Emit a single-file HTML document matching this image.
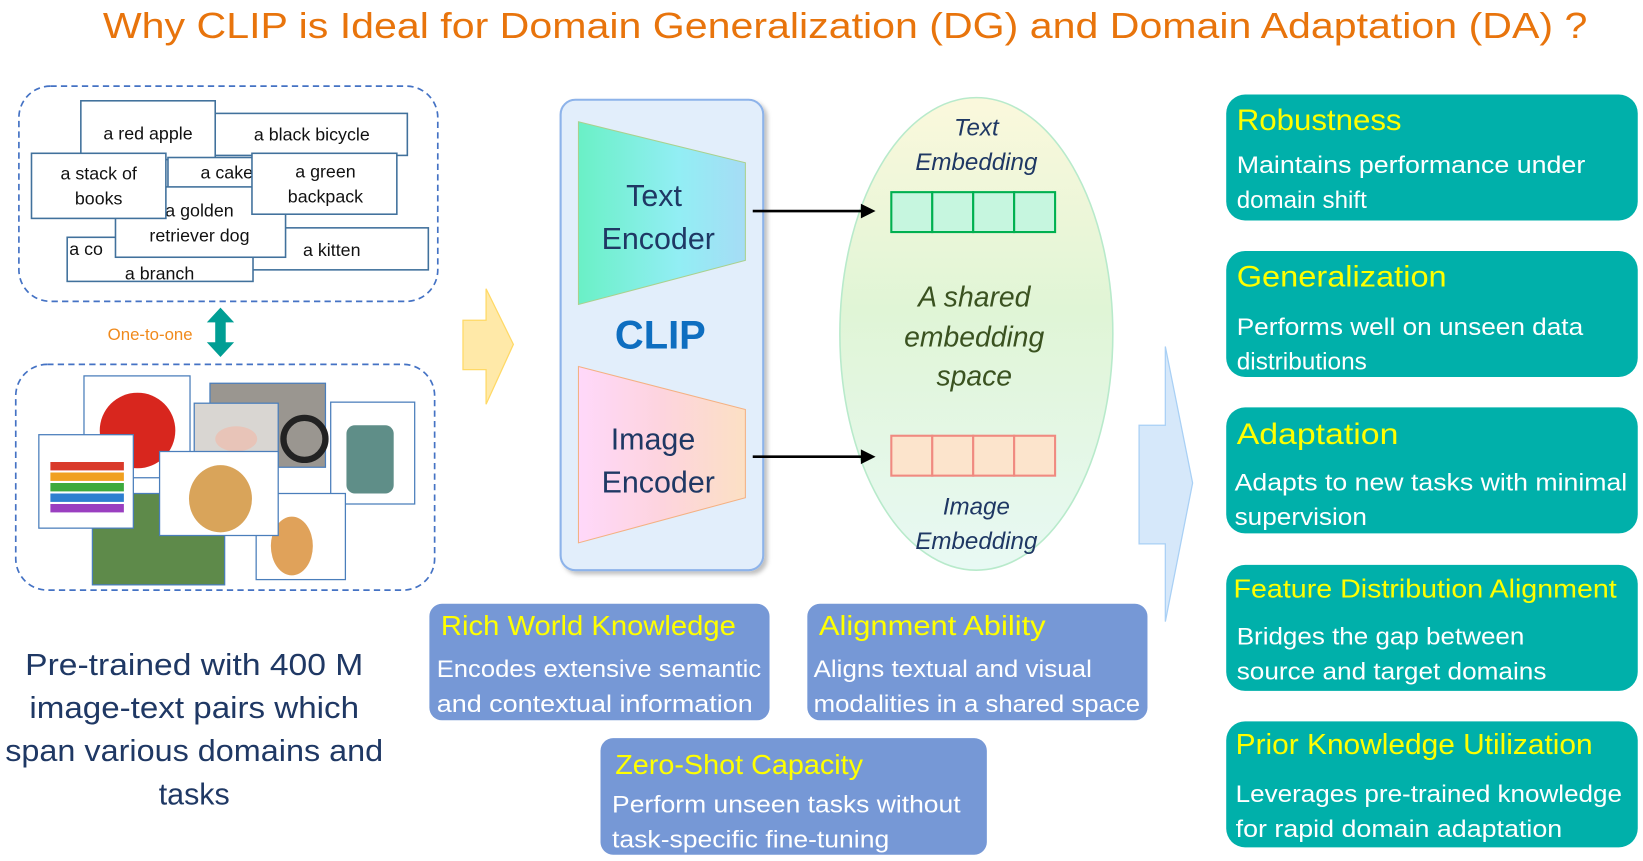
<!DOCTYPE html>
<html><head><meta charset="utf-8"><style>
html,body{margin:0;padding:0;background:#fff;width:1643px;height:861px;overflow:hidden}
svg{display:block}
text{font-family:"Liberation Sans","DejaVu Sans",sans-serif}
</style></head><body>
<svg width="1643" height="861" viewBox="0 0 1565 820" preserveAspectRatio="none" xmlns="http://www.w3.org/2000/svg">
<defs>
<linearGradient id="te" x1="0" x2="1"><stop offset="0" stop-color="#6AF0C6"/><stop offset="0.6" stop-color="#92EEF4"/><stop offset="1" stop-color="#A6DCF5"/></linearGradient>
<linearGradient id="ie" x1="0" x2="1"><stop offset="0" stop-color="#FFD8FA"/><stop offset="0.5" stop-color="#FDD4DE"/><stop offset="1" stop-color="#FCE0C4"/></linearGradient>
<linearGradient id="el" x1="0" y1="0" x2="0" y2="1"><stop offset="0" stop-color="#FBF8DC"/><stop offset="0.45" stop-color="#E0F5D6"/><stop offset="1" stop-color="#E8F9F4"/></linearGradient>
<filter id="sh" x="-10%" y="-10%" width="130%" height="130%"><feDropShadow dx="3" dy="3" stdDeviation="2" flood-color="#000" flood-opacity="0.25"/></filter>
</defs>

<text x="805" y="36" text-anchor="middle" font-size="34" fill="#E8740C" textLength="1414" lengthAdjust="spacingAndGlyphs">Why CLIP is Ideal for Domain Generalization (DG) and Domain Adaptation (DA) ?</text>

<rect x="18" y="82" width="399" height="205" rx="30" fill="none" stroke="#4472C4" stroke-width="1.6" stroke-dasharray="6,4"/>
<g fill="#fff" stroke="#41719C" stroke-width="1.5" font-size="17" text-anchor="middle">
<rect x="205" y="108" width="183" height="40"/><text x="297" y="134" stroke="none" fill="#111">a black bicycle</text>
<rect x="77" y="96" width="128" height="56"/><text x="141" y="133" stroke="none" fill="#111">a red apple</text>
<rect x="160" y="150" width="92" height="30"/><text x="216" y="170" stroke="none" fill="#111">a cake</text>
<rect x="240" y="217" width="168" height="40"/><text x="316" y="244" stroke="none" fill="#111">a kitten</text>
<rect x="64" y="226" width="177" height="42"/><text x="82" y="243" stroke="none" fill="#111">a co</text><text x="152" y="266" stroke="none" fill="#111">a branch</text>
<rect x="110" y="178" width="162" height="67"/><text x="190" y="206" stroke="none" fill="#111">a golden</text><text x="190" y="230" stroke="none" fill="#111">retriever dog</text>
<rect x="30" y="146" width="128" height="62"/><text x="94" y="171" stroke="none" fill="#111">a stack of</text><text x="94" y="195" stroke="none" fill="#111">books</text>
<rect x="240" y="146" width="138" height="58"/><text x="310" y="169" stroke="none" fill="#111">a green</text><text x="310" y="193" stroke="none" fill="#111">backpack</text>
</g>

<text x="143" y="324" text-anchor="middle" font-size="16" fill="#F08A1C">One-to-one</text>
<polygon points="210,293 223,307 215,307 215,326 223,326 210,340 197,326 205,326 205,307 197,307" fill="#009E94"/>

<rect x="15" y="347" width="399" height="215" rx="30" fill="none" stroke="#4472C4" stroke-width="1.6" stroke-dasharray="6,4"/>
<g stroke="#4A7EBB" stroke-width="1.2">
<rect x="80" y="358" width="101" height="97" fill="#fff"/>
<circle cx="131" cy="410" r="36" fill="#D8261E" stroke="none"/>
<rect x="200" y="365" width="110" height="80" fill="#9A9690"/>
<rect x="185" y="384" width="80" height="60" fill="#D9D6D2"/>
<ellipse cx="225" cy="418" rx="20" ry="12" fill="#E8C4B8" stroke="none"/>
<circle cx="290" cy="418" r="20" fill="none" stroke="#222" stroke-width="6"/>
<rect x="315" y="383" width="80" height="97" fill="#fff"/>
<rect x="330" y="405" width="45" height="65" rx="8" fill="#5F8E88" stroke="none"/>
<rect x="88" y="470" width="126" height="87" fill="#5E8A4A"/>
<rect x="37" y="414" width="90" height="89" fill="#fff"/>
<rect x="48" y="440" width="70" height="8" fill="#D93A2A" stroke="none"/><rect x="48" y="450" width="70" height="8" fill="#F0A020" stroke="none"/><rect x="48" y="460" width="70" height="8" fill="#3DAA3D" stroke="none"/><rect x="48" y="470" width="70" height="8" fill="#2E7FD0" stroke="none"/><rect x="48" y="480" width="70" height="8" fill="#9A3FC0" stroke="none"/>
<rect x="244" y="470" width="85" height="82" fill="#fff"/>
<ellipse cx="278" cy="520" rx="20" ry="28" fill="#E0A25A" stroke="none"/>
<rect x="152" y="430" width="113" height="80" fill="#fff"/>
<ellipse cx="210" cy="475" rx="30" ry="32" fill="#D9A45A" stroke="none"/>
</g>

<g font-size="29" fill="#1F3864" text-anchor="middle">
<text x="185" y="643" textLength="322" lengthAdjust="spacingAndGlyphs">Pre-trained with 400 M</text>
<text x="185" y="684" textLength="314" lengthAdjust="spacingAndGlyphs">image-text pairs which</text>
<text x="185" y="725" textLength="360" lengthAdjust="spacingAndGlyphs">span various domains and</text>
<text x="185" y="766">tasks</text>
</g>

<polygon points="441,305 463,305 463,275 489,328 463,385 463,352 441,352" fill="#FFE9A8" stroke="#FFD966" stroke-width="1.2"/>

<rect x="534" y="95" width="193" height="448" rx="14" fill="#E2EEFB" stroke="#8DB3EA" stroke-width="2" filter="url(#sh)"/>
<polygon points="551,116 710,155 710,248 551,290" fill="url(#te)" stroke="#A9D18E" stroke-width="1"/>
<polygon points="551,349 710,390 710,474 551,517" fill="url(#ie)" stroke="#F4B183" stroke-width="1"/>
<g font-size="29" fill="#1F3864" text-anchor="middle">
<text x="623" y="196">Text</text><text x="627" y="237">Encoder</text>
<text x="622" y="428">Image</text><text x="627" y="469">Encoder</text>
</g>
<text x="629" y="332" text-anchor="middle" font-size="38" font-weight="bold" fill="#0E6EC0">CLIP</text>

<ellipse cx="930" cy="318" rx="130" ry="225" fill="url(#el)" stroke="#B8EACB" stroke-width="1.5"/>

<line x1="717" y1="201" x2="825" y2="201" stroke="#000" stroke-width="2.5"/><polygon points="834,201 820,194 820,208" fill="#000"/>
<line x1="717" y1="435" x2="825" y2="435" stroke="#000" stroke-width="2.5"/><polygon points="834,435 820,428 820,442" fill="#000"/>

<g font-size="23" font-style="italic" fill="#1F3864" text-anchor="middle">
<text x="930" y="129">Text</text><text x="930" y="162">Embedding</text>
<text x="930" y="490">Image</text><text x="930" y="523">Embedding</text>
</g>
<g font-size="27" font-style="italic" fill="#3A5220" text-anchor="middle">
<text x="928" y="292">A shared</text><text x="928" y="330">embedding</text><text x="928" y="367">space</text>
</g>
<g stroke="#00B050" stroke-width="2" fill="#C6F6DF">
<rect x="849" y="183" width="39" height="38"/><rect x="888" y="183" width="39" height="38"/><rect x="927" y="183" width="39" height="38"/><rect x="966" y="183" width="39" height="38"/>
</g>
<g stroke="#F08A80" stroke-width="2" fill="#FCE4CC">
<rect x="849" y="415" width="39" height="38"/><rect x="888" y="415" width="39" height="38"/><rect x="927" y="415" width="39" height="38"/><rect x="966" y="415" width="39" height="38"/>
</g>

<polygon points="1085,405 1110,405 1110,330 1136,460 1110,592 1110,518 1085,518" fill="#D6E8FA" stroke="#A9D0F5" stroke-width="1.2"/>

<g fill="#7698D6">
<rect x="409" y="575" width="324" height="111" rx="12"/>
<rect x="769" y="575" width="324" height="111" rx="12"/>
<rect x="572" y="703" width="368" height="111" rx="12"/>
</g>
<g font-size="26" fill="#FFFF00">
<text x="420" y="605" textLength="281" lengthAdjust="spacingAndGlyphs">Rich World Knowledge</text>
<text x="780" y="605" textLength="216" lengthAdjust="spacingAndGlyphs">Alignment Ability</text>
<text x="586" y="737" textLength="236" lengthAdjust="spacingAndGlyphs">Zero-Shot Capacity</text>
</g>
<g font-size="23" fill="#fff">
<text x="416" y="645" textLength="309" lengthAdjust="spacingAndGlyphs">Encodes extensive semantic</text>
<text x="416" y="678" textLength="301" lengthAdjust="spacingAndGlyphs">and contextual information</text>
<text x="775" y="645" textLength="265" lengthAdjust="spacingAndGlyphs">Aligns textual and visual</text>
<text x="775" y="678" textLength="311" lengthAdjust="spacingAndGlyphs">modalities in a shared space</text>
<text x="583" y="774" textLength="332" lengthAdjust="spacingAndGlyphs">Perform unseen tasks without</text>
<text x="583" y="807" textLength="264" lengthAdjust="spacingAndGlyphs">task-specific fine-tuning</text>
</g>

<g fill="#00B0AA">
<rect x="1168" y="90" width="392" height="120" rx="18"/>
<rect x="1168" y="239" width="392" height="120" rx="18"/>
<rect x="1168" y="388" width="392" height="120" rx="18"/>
<rect x="1168" y="538" width="392" height="120" rx="18"/>
<rect x="1168" y="687" width="392" height="120" rx="18"/>
</g>
<g font-size="28" fill="#FFFF00">
<text x="1178" y="124" textLength="157" lengthAdjust="spacingAndGlyphs">Robustness</text>
<text x="1178" y="273" textLength="200" lengthAdjust="spacingAndGlyphs">Generalization</text>
<text x="1178" y="423" textLength="154" lengthAdjust="spacingAndGlyphs">Adaptation</text>
<text x="1175" y="569" font-size="25" textLength="365" lengthAdjust="spacingAndGlyphs">Feature Distribution Alignment</text>
<text x="1177" y="718" font-size="27" textLength="340" lengthAdjust="spacingAndGlyphs">Prior Knowledge Utilization</text>
</g>
<g font-size="23" fill="#fff">
<text x="1178" y="165" textLength="332" lengthAdjust="spacingAndGlyphs">Maintains performance under</text>
<text x="1178" y="198">domain shift</text>
<text x="1178" y="319" textLength="330" lengthAdjust="spacingAndGlyphs">Performs well on unseen data</text>
<text x="1178" y="352" textLength="124" lengthAdjust="spacingAndGlyphs">distributions</text>
<text x="1176" y="467" textLength="374" lengthAdjust="spacingAndGlyphs">Adapts to new tasks with minimal</text>
<text x="1176" y="500" textLength="126" lengthAdjust="spacingAndGlyphs">supervision</text>
<text x="1178" y="614" textLength="274" lengthAdjust="spacingAndGlyphs">Bridges the gap between</text>
<text x="1178" y="647" textLength="295" lengthAdjust="spacingAndGlyphs">source and target domains</text>
<text x="1177" y="764" textLength="368" lengthAdjust="spacingAndGlyphs">Leverages pre-trained knowledge</text>
<text x="1177" y="797" textLength="311" lengthAdjust="spacingAndGlyphs">for rapid domain adaptation</text>
</g>
</svg>
</body></html>
